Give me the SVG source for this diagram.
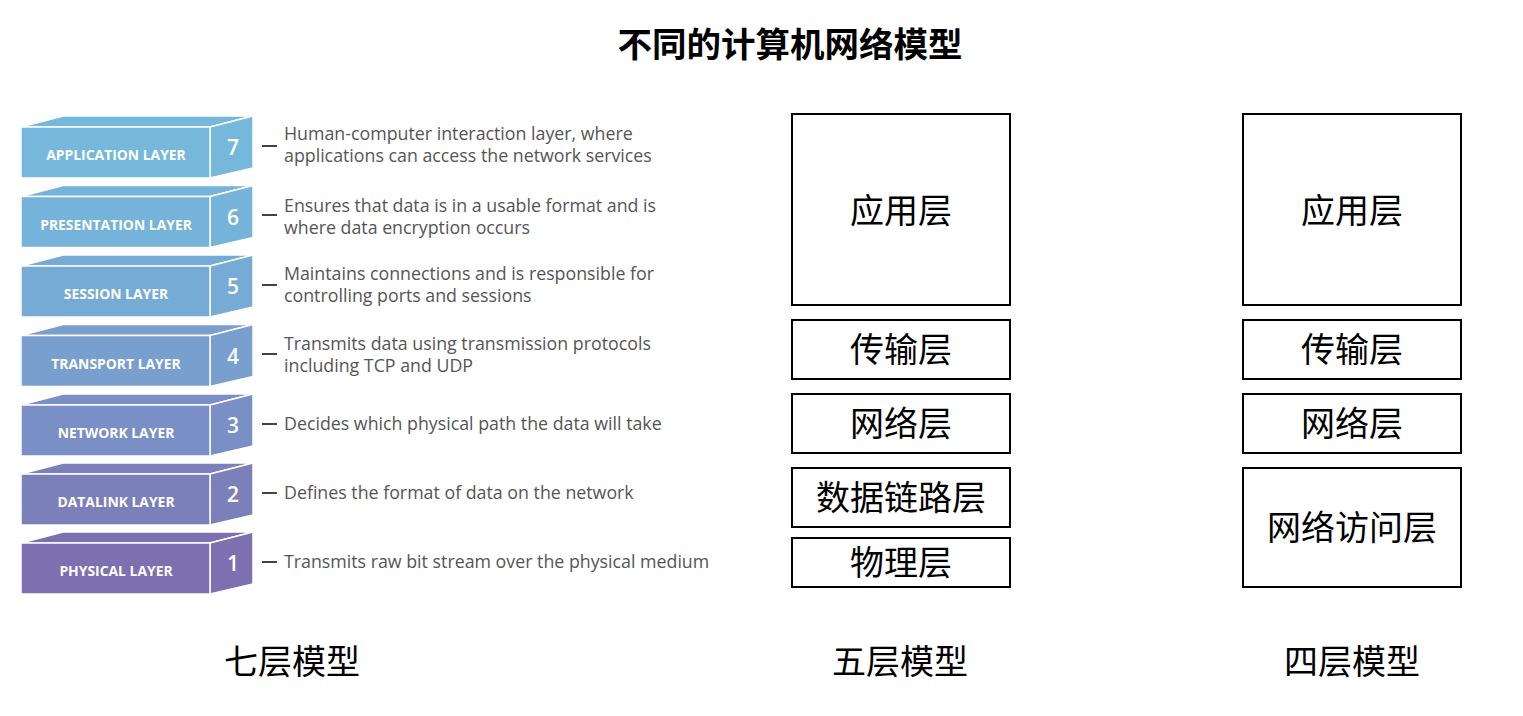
<svg xmlns="http://www.w3.org/2000/svg" width="1523" height="716" viewBox="0 0 1523 716">
<style>
.face{stroke:#fff;stroke-width:1.5;stroke-linejoin:round}
.lbl{font-family:"Open Sans","Liberation Sans",sans-serif;font-weight:700;font-size:13.9px;fill:#fff;text-anchor:middle}
.num{font-family:"Open Sans","Liberation Sans",sans-serif;font-weight:600;font-size:21px;fill:#fff;text-anchor:middle}
.desc{font-family:"Open Sans","Liberation Sans",sans-serif;font-size:17.8px;fill:#555}
.dash{stroke:#444;stroke-width:2}
.box{fill:#fff;stroke:#000;stroke-width:2}
.cjk{font-family:"Noto Sans CJK SC",sans-serif;font-size:34px;fill:#000;text-anchor:middle}
.title{font-family:"Noto Sans CJK SC",sans-serif;font-size:34.5px;font-weight:700;fill:#000;text-anchor:middle}
</style>
<rect width="1523" height="716" fill="#fff"/>
<text class="title" x="790" y="57">不同的计算机网络模型</text>

<g id="layer7">
<polygon class="face" fill="#76b7dc" points="21,127 63,116 253,116 210,127"/>
<polygon class="face" fill="#76b7dc" points="210,127 253,116 253,168 210,178"/>
<rect class="face" fill="#76b7dc" x="21" y="127" width="189" height="51"/>
<text class="lbl" x="116" y="160">APPLICATION LAYER</text>
<text class="num" x="233" y="155">7</text>
<line class="dash" x1="262" y1="146" x2="277" y2="146"/>
<text class="desc" x="284" y="140">Human-computer interaction layer, where</text>
<text class="desc" x="284" y="162">applications can access the network services</text>
</g>

<g id="layer6">
<polygon class="face" fill="#75b3da" points="21,196.5 63,185.5 253,185.5 210,196.5"/>
<polygon class="face" fill="#75b3da" points="210,196.5 253,185.5 253,237.5 210,247.5"/>
<rect class="face" fill="#75b3da" x="21" y="196.5" width="189" height="51"/>
<text class="lbl" x="116" y="229.5">PRESENTATION LAYER</text>
<text class="num" x="233" y="224.5">6</text>
<line class="dash" x1="262" y1="215" x2="277" y2="215"/>
<text class="desc" x="284" y="212">Ensures that data is in a usable format and is</text>
<text class="desc" x="284" y="234">where data encryption occurs</text>
</g>

<g id="layer5">
<polygon class="face" fill="#75abd5" points="21,266 63,255 253,255 210,266"/>
<polygon class="face" fill="#75abd5" points="210,266 253,255 253,307 210,317"/>
<rect class="face" fill="#75abd5" x="21" y="266" width="189" height="51"/>
<text class="lbl" x="116" y="299">SESSION LAYER</text>
<text class="num" x="233" y="294">5</text>
<line class="dash" x1="262" y1="285" x2="277" y2="285"/>
<text class="desc" x="284" y="280">Maintains connections and is responsible for</text>
<text class="desc" x="284" y="302">controlling ports and sessions</text>
</g>

<g id="layer4">
<polygon class="face" fill="#789fcd" points="21,335.5 63,324.5 253,324.5 210,335.5"/>
<polygon class="face" fill="#789fcd" points="210,335.5 253,324.5 253,376.5 210,386.5"/>
<rect class="face" fill="#789fcd" x="21" y="335.5" width="189" height="51"/>
<text class="lbl" x="116" y="368.5">TRANSPORT LAYER</text>
<text class="num" x="233" y="363.5">4</text>
<line class="dash" x1="262" y1="354" x2="277" y2="354"/>
<text class="desc" x="284" y="350">Transmits data using transmission protocols</text>
<text class="desc" x="284" y="372">including TCP and UDP</text>
</g>

<g id="layer3">
<polygon class="face" fill="#7a8fc6" points="21,405 63,394 253,394 210,405"/>
<polygon class="face" fill="#7a8fc6" points="210,405 253,394 253,446 210,456"/>
<rect class="face" fill="#7a8fc6" x="21" y="405" width="189" height="51"/>
<text class="lbl" x="116" y="438">NETWORK LAYER</text>
<text class="num" x="233" y="433">3</text>
<line class="dash" x1="262" y1="424" x2="277" y2="424"/>
<text class="desc" x="284" y="430">Decides which physical path the data will take</text>
</g>

<g id="layer2">
<polygon class="face" fill="#7b80bb" points="21,474 63,463 253,463 210,474"/>
<polygon class="face" fill="#7b80bb" points="210,474 253,463 253,515 210,525"/>
<rect class="face" fill="#7b80bb" x="21" y="474" width="189" height="51"/>
<text class="lbl" x="116" y="507">DATALINK LAYER</text>
<text class="num" x="233" y="502">2</text>
<line class="dash" x1="262" y1="493" x2="277" y2="493"/>
<text class="desc" x="284" y="499">Defines the format of data on the network</text>
</g>

<g id="layer1">
<polygon class="face" fill="#7c70b0" points="21,543 63,532 253,532 210,543"/>
<polygon class="face" fill="#7c70b0" points="210,543 253,532 253,584 210,594"/>
<rect class="face" fill="#7c70b0" x="21" y="543" width="189" height="51"/>
<text class="lbl" x="116" y="576">PHYSICAL LAYER</text>
<text class="num" x="233" y="571">1</text>
<line class="dash" x1="262" y1="562" x2="277" y2="562"/>
<text class="desc" x="284" y="568">Transmits raw bit stream over the physical medium</text>
</g>

<g id="five-app"><rect class="box" x="792" y="114" width="218" height="191"/><text class="cjk" x="901" y="223">应用层</text></g>
<g id="five-transport"><rect class="box" x="792" y="320" width="218" height="59"/><text class="cjk" x="901" y="362">传输层</text></g>
<g id="five-network"><rect class="box" x="792" y="394" width="218" height="59"/><text class="cjk" x="901" y="436">网络层</text></g>
<g id="five-datalink"><rect class="box" x="792" y="468" width="218" height="59"/><text class="cjk" x="901" y="510">数据链路层</text></g>
<g id="five-physical"><rect class="box" x="792" y="538" width="218" height="49"/><text class="cjk" x="901" y="575">物理层</text></g>

<g id="four-app"><rect class="box" x="1243" y="114" width="218" height="191"/><text class="cjk" x="1352" y="223">应用层</text></g>
<g id="four-transport"><rect class="box" x="1243" y="320" width="218" height="59"/><text class="cjk" x="1352" y="362">传输层</text></g>
<g id="four-network"><rect class="box" x="1243" y="394" width="218" height="59"/><text class="cjk" x="1352" y="436">网络层</text></g>
<g id="four-access"><rect class="box" x="1243" y="468" width="218" height="119"/><text class="cjk" x="1352" y="540">网络访问层</text></g>

<text class="cjk" x="292" y="674">七层模型</text>
<text class="cjk" x="900" y="674">五层模型</text>
<text class="cjk" x="1352" y="674">四层模型</text>
</svg>
